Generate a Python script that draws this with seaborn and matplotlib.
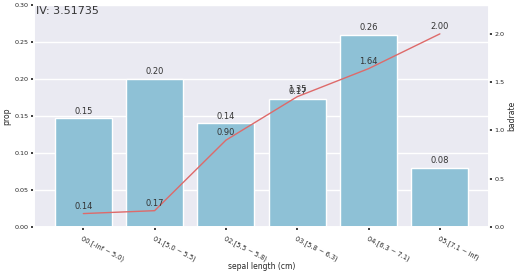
import numpy as np
import pandas as pd
import matplotlib
matplotlib.use("Agg")
import matplotlib.pyplot as plt
import seaborn as sns

categories = ["00.[-inf ~ 5.0)", "01.[5.0 ~ 5.5)", "02.[5.5 ~ 5.8)",
              "03.[5.8 ~ 6.3)", "04.[6.3 ~ 7.1)", "05.[7.1 ~ inf)"]
prop = [0.1467, 0.2000, 0.1400, 0.1733, 0.2600, 0.0800]
badrate = [0.14, 0.17, 0.90, 1.35, 1.64, 2.00]
iv_value = 3.51735

sns.set_theme(style="darkgrid", rc={"xtick.bottom": True, "ytick.left": True,
                                    "ytick.right": True,
                                    "xtick.major.size": 2.5, "ytick.major.size": 2.5})

df = pd.DataFrame({"bin": categories, "prop": prop, "badrate": badrate})

fig = plt.figure(figsize=(5.17, 2.71), dpi=100)
ax = fig.add_axes([0.066, 0.162, 0.880, 0.820])

sns.barplot(data=df, x="bin", y="prop", color="#8ec1d6", saturation=1, ax=ax, width=0.8)
ax.xaxis.grid(False)
ax.set_xlim(-0.69, 5.69)
ax.set_ylim(0, 0.30)
ax.set_yticks([0.0, 0.05, 0.10, 0.15, 0.20, 0.25, 0.30])
ax.set_yticklabels([f"{v:.2f}" for v in [0.0, 0.05, 0.10, 0.15, 0.20, 0.25, 0.30]])
ax.tick_params(axis="y", labelsize=4.6, pad=1.5)
ax.tick_params(axis="x", labelsize=4.8, pad=3)
for lab in ax.get_xticklabels():
    lab.set_rotation(-27)
    lab.set_ha("left")
    lab.set_va("top")
    lab.set_rotation_mode("anchor")
ax.set_xlabel("sepal length (cm)", fontsize=5.5, labelpad=0)
ax.set_ylabel("prop", fontsize=5.5, labelpad=2)

for i, v in enumerate(prop):
    ax.annotate(f"{v:.2f}", (i, v), xytext=(0, 2), textcoords="offset points",
                ha="center", va="bottom", fontsize=6, color="#333333")

ax2 = ax.twinx()
x_pos = np.arange(len(categories))
sns.lineplot(x=x_pos, y=badrate, ax=ax2, color="#de6a6a", linewidth=1)
ax2.grid(False)
ax2.set_ylim(0, 2.3)
ax2.set_xlim(-0.69, 5.69)
ax2.set_yticks([0.0, 0.5, 1.0, 1.5, 2.0])
ax2.tick_params(axis="y", labelsize=4.6, pad=1.5, right=True, left=False)
ax2.set_ylabel("badrate", fontsize=5.5, labelpad=2)
for i, v in enumerate(badrate):
    ax2.annotate(f"{v:.2f}", (i, v), xytext=(0, 2), textcoords="offset points",
                 ha="center", va="bottom", fontsize=6, color="#333333")

ax.text(0.005, 0.995, f"IV: {iv_value}", transform=ax.transAxes, ha="left", va="top",
        fontsize=8, color="#333333")

fig.savefig("out.png", dpi=100)
